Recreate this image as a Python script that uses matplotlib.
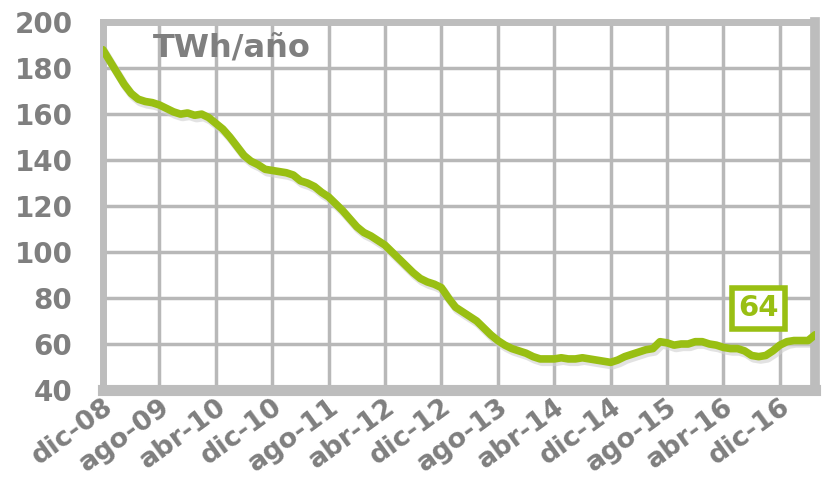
import matplotlib.pyplot as plt
import matplotlib.transforms as mtransforms
import numpy as np

# monthly values, dic-08 .. may-17 (TWh/año, rolling 12 months)
values = [188, 183, 178, 173, 169, 166.5, 165.5, 165, 164, 162.5,
          161, 160, 160.5, 159.5, 160, 158.5, 156, 153.5, 150, 146,
          142, 139.5, 138, 136, 135.5, 135, 134.5, 133.5, 131, 130,
          128.5, 126, 124, 121, 118, 114.5, 111, 108.5, 107, 105,
          103, 100, 97, 94, 91, 88.5, 87, 86, 84.5, 80,
          76, 74, 72, 70, 67, 64, 61.5, 59.5, 58, 57,
          56, 54.5, 53.5, 53.5, 53.5, 54, 53.5, 53.5, 54, 53.5,
          53, 52.5, 52, 53, 54.5, 55.5, 56.5, 57.5, 58, 61,
          60.5, 59.5, 60, 60, 61, 61, 60, 59.5, 58.5, 58,
          58, 57, 55, 54.5, 55, 57, 59.5, 61, 61.5, 61.5,
          61.5, 64]
tick_labels = ['dic-08', 'ago-09', 'abr-10', 'dic-10', 'ago-11', 'abr-12',
               'dic-12', 'ago-13', 'abr-14', 'dic-14', 'ago-15', 'abr-16',
               'dic-16']
last_label = '64'

gray = '#7f7f7f'
green = '#99bf13'
grid_c = '#b8b8b8'

fig = plt.figure(figsize=(8.25, 4.93), dpi=100)
ax = fig.add_axes([0.1248, 0.209, 0.8632, 0.746])

x = np.arange(len(values))
# soft shadow under the line
shadow = ax.transData + mtransforms.ScaledTranslation(2 / 100, -3 / 100, fig.dpi_scale_trans)
ax.plot(x, values, color='#d0d0d0', lw=6, alpha=0.6, zorder=2, transform=shadow)
ax.plot(x, values, color=green, lw=5.5, solid_capstyle='round',
        solid_joinstyle='round', zorder=3)

ax.set_xlim(0, len(values) - 1)
ax.set_ylim(40, 200)
ax.set_yticks(np.arange(40, 201, 20))
ax.set_xticks(np.arange(0, 8 * len(tick_labels), 8))
ax.set_xticklabels(tick_labels, rotation=36, ha='right', va='top',
                   rotation_mode='anchor', fontweight='bold')

ax.grid(True, color=grid_c, lw=2.5, zorder=1)
ax.set_axisbelow(True)
for s in ax.spines.values():
    s.set_color('#bdbdbd')
    s.set_linewidth(5)
ax.spines['bottom'].set_linewidth(8)
ax.spines['right'].set_linewidth(7)

ax.tick_params(length=0)
ax.tick_params(axis='y', pad=22, labelsize=20, labelcolor=gray)
for t in ax.get_yticklabels():
    t.set_fontweight('bold')
ax.tick_params(axis='x', pad=3, labelsize=19.5, labelcolor=gray)

ax.text(0.181, 0.929, 'TWh/año', transform=ax.transAxes, fontsize=23,
        fontweight='bold', color=gray, ha='center', va='center', zorder=4)

ax.text(93.0, 75.5, last_label, fontsize=21, fontweight='bold', color=green,
        ha='center', va='center', zorder=5,
        bbox=dict(boxstyle='square,pad=0.22', fc='white', ec=green, lw=4))

fig.savefig('out.png', dpi=100)
